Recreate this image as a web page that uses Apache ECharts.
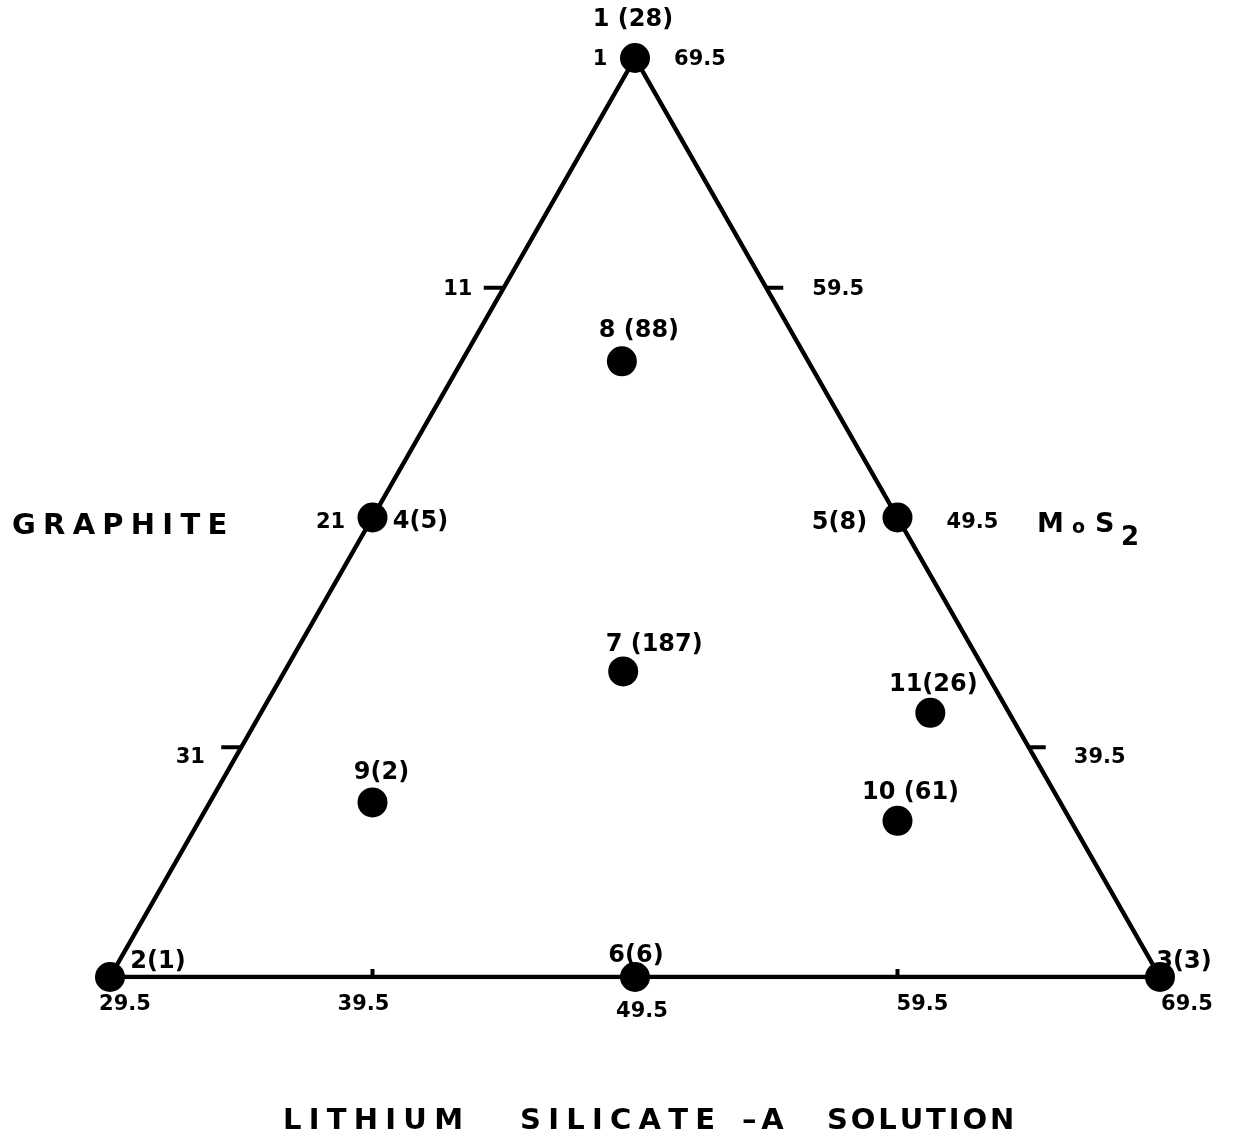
<!DOCTYPE html>
<html>
<head>
<meta charset="utf-8">
<script src="https://cdn.jsdelivr.net/npm/echarts/dist/echarts.min.js"></script>
<style>
html, body { margin: 0; padding: 0; background: #fff; }
#chart { width: 1248px; height: 1140px; }
</style>
</head>
<body>
<div id="chart"></div>
<script>
// compositions in %, lithium silicate = 100 - graphite - MoS2
var pointLabels = ['1 (28)', '2(1)', '3(3)', '4(5)', '5(8)', '6(6)', '7 (187)', '8 (88)', '9(2)', '10 (61)', '11(26)'];
var graphite = [1, 41, 1, 21, 1, 21, 14.8, 8.1, 27.2, 7.6, 4.0];
var mos2 = [69.5, 29.5, 29.5, 49.5, 49.5, 29.5, 42.8, 56.3, 37.1, 36.3, 41.0];

// scale marks along each side
var graphiteTicks = [1, 11, 21, 31];          // left side
var mos2Ticks = [69.5, 59.5, 49.5, 39.5];      // right side
var liTicks = [29.5, 39.5, 49.5, 59.5, 69.5];  // base

// triangle corners (graphite, MoS2)
var cornerGraphite = [1, 41, 1, 1];
var cornerMos2 = [69.5, 29.5, 29.5, 69.5];

// ternary -> plot xy (sub-triangle, each component spans 40 %)
function toXY(g, m) {
	var li = 100 - g - m;
	var a = (m - 29.5) / 40;
	var c = (li - 29.5) / 40;
	return [c + a / 2, a];
}

// label placement (pixels)
var ptOff = [[-2, -38], [48, -15], [24, -15], [48, 4], [-58, 5], [1, -21], [31, -27], [17, -31], [9, -30], [13, -28], [3, -28]];
var leftOff = [[-35, 2], [-46, 2], [-42, 5], [-51, 10]];
var rightOff = [[65, 2], [72, 2], [75, 5], [71, 10]];
var baseOff = [[15, 28], [-9, 28], [7, 35], [25, 28], [27, 28]];
var tickDir = [[-20, 0], [17, 0], [0, -8]];

var font = 'DejaVu Sans';

var triangle = [];
for (var i = 0; i < cornerGraphite.length; i++) {
	triangle.push(toXY(cornerGraphite[i], cornerMos2[i]));
}

var points = [];
for (var i = 0; i < pointLabels.length; i++) {
	points.push({
		value: toXY(graphite[i], mos2[i]),
		label: { formatter: pointLabels[i], offset: ptOff[i] }
	});
}

// a tick under a plotted point is hidden by the dot
function covered(xy) {
	for (var k = 0; k < points.length; k++) {
		var p = points[k].value;
		if (Math.abs(p[0] - xy[0]) < 1e-6 && Math.abs(p[1] - xy[1]) < 1e-6) return true;
	}
	return false;
}

var tickMarks = [];
var tickLabels = [];
var tickText = [];
function addTick(xy, side, text, off, mark) {
	if (mark && !covered(xy)) tickMarks.push([xy[0], xy[1], side]);
	tickLabels.push([xy[0], xy[1], off[0], off[1]]);
	tickText.push(text);
}
for (var i = 0; i < graphiteTicks.length; i++) {
	addTick(toXY(graphiteTicks[i], 70.5 - graphiteTicks[i]), 0, String(graphiteTicks[i]), leftOff[i], i > 0);
}
for (var i = 0; i < mos2Ticks.length; i++) {
	addTick(toXY(1, mos2Ticks[i]), 1, String(mos2Ticks[i]), rightOff[i], i > 0);
}
for (var i = 0; i < liTicks.length; i++) {
	addTick(toXY(70.5 - liTicks[i], 29.5), 2, String(liTicks[i]), baseOff[i], i > 0 && i < liTicks.length - 1);
}

function titleText(left, y, text, size) {
	return {
		type: 'text', left: left, top: y - size / 2,
		style: { text: text, font: 'bold ' + size + 'px "DejaVu Sans"', fill: '#000' }
	};
}

var myChart = echarts.init(document.getElementById('chart'));
var option = {
	animation: false,
	backgroundColor: '#fff',
	grid: { left: 110, top: 58, width: 1050, height: 919 },
	xAxis: { type: 'value', min: 0, max: 1, show: false },
	yAxis: { type: 'value', min: 0, max: 1, show: false },
	graphic: [
		titleText(12, 526, 'G\u2005R\u2005A\u2005P\u2005H\u2005I\u2005T\u2005E', 29),
		titleText(1037, 525, 'M', 27),
		titleText(1072, 528, 'o', 19),
		titleText(1095, 525, 'S', 27),
		titleText(1121, 538, '2', 26),
		titleText(283, 1121, 'L\u2005I\u2005T\u2005H\u2005I\u2005U\u2005M', 29),
		titleText(520, 1121, 'S\u2005I\u2005L\u2005I\u2005C\u2005A\u2005T\u2005E', 29),
		titleText(742, 1121, '\u2013\u2006A', 29),
		titleText(827, 1121, 'S\u200AO\u200AL\u200AU\u200AT\u200AI\u200AO\u200AN', 29)
	],
	series: [
		{
			type: 'line',
			data: triangle,
			symbol: 'none',
			silent: true,
			lineStyle: { color: '#000', width: 4.5 }
		},
		{
			type: 'custom',
			data: tickMarks,
			silent: true,
			renderItem: function(params, api) {
				var p = api.coord([api.value(0), api.value(1)]);
				var d = tickDir[api.value(2)];
				return {
					type: 'line',
					shape: { x1: p[0], y1: p[1], x2: p[0] + d[0], y2: p[1] + d[1] },
					style: { stroke: '#000', lineWidth: 4 }
				};
			}
		},
		{
			type: 'custom',
			data: tickLabels,
			silent: true,
			renderItem: function(params, api) {
				var p = api.coord([api.value(0), api.value(1)]);
				return {
					type: 'text',
					x: p[0] + api.value(2),
					y: p[1] + api.value(3),
					style: {
						text: tickText[params.dataIndex],
						fill: '#000',
						font: 'bold 21px "DejaVu Sans"',
						align: 'center',
						verticalAlign: 'middle'
					}
				};
			}
		},
		{
			type: 'scatter',
			data: points,
			symbolSize: 30,
			silent: true,
			itemStyle: { color: '#000', opacity: 1 },
			label: { show: true, position: 'inside', color: '#000', fontFamily: font, fontWeight: 'bold', fontSize: 24 }
		}
	]
};
myChart.setOption(option);
</script>
</body>
</html>
